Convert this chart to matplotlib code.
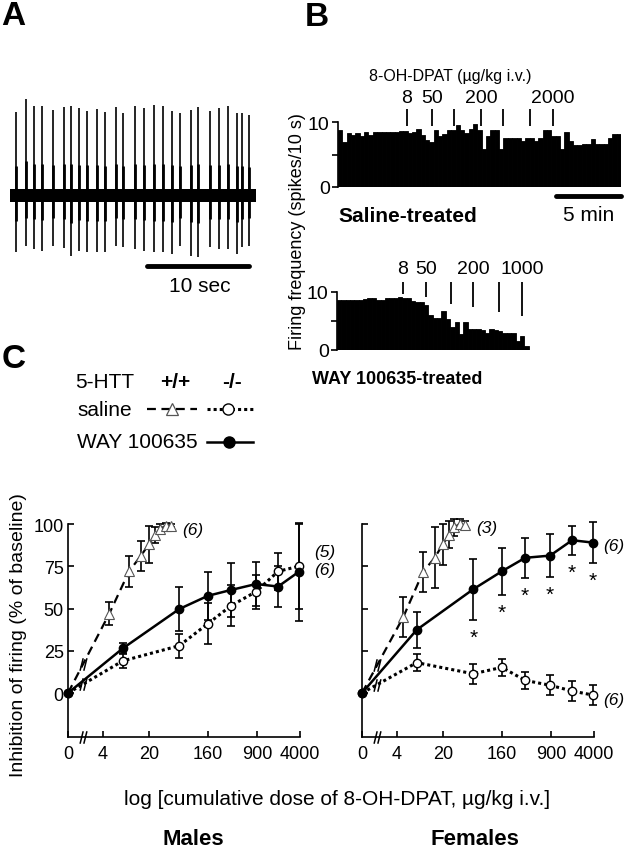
import numpy as np
import matplotlib
matplotlib.use("Agg")
import matplotlib.pyplot as plt
from matplotlib.path import Path

plt.rcParams['font.family'] = ['Liberation Sans', 'DejaVu Sans']
plt.rcParams['axes.linewidth'] = 1.2

# ---------------- Panel A: extracellular recording ----------------
trace_duration = 24.1  # s
spike_times = [0.59, 1.57, 2.38, 3.11, 4.19, 5.32, 5.98, 6.76, 7.52, 8.50, 9.31,
               10.36, 11.05, 12.25, 13.14, 14.15, 15.03, 15.85, 16.67, 17.72,
               18.46, 19.61, 20.52, 21.40, 22.23, 22.72, 23.46]
spike_up = [82.7, 96.7, 88.7, 88.7, 85.0, 87.7, 88.7, 86.7, 84.3, 86.0, 82.7,
            87.7, 81.7, 89.3, 86.7, 90.0, 89.3, 84.3, 81.7, 85.0, 87.7, 84.3,
            86.7, 88.7, 82.0, 82.0, 80.0]
spike_down = [57.3, 50.7, 54.0, 55.7, 50.7, 53.3, 61.3, 55.7, 57.3, 57.3, 57.3,
              50.7, 52.3, 54.0, 55.7, 57.3, 57.3, 59.0, 50.7, 60.7, 62.3, 52.3,
              54.0, 54.0, 59.0, 52.3, 50.7]
noise_half_width = 6.5

# ---------------- Panel B: rate histograms (spikes / 10 s) ----------------
bin_min = 1.0 / 3.0
saline_rate = [8.8, 6.9, 8.3, 8.0, 8.3, 7.8, 8.4, 8.0, 8.4, 8.5, 8.4, 8.5, 8.4,
               8.5, 8.6, 8.6, 8.3, 8.5, 9.0, 8.0, 7.3, 6.9, 8.8, 7.8, 8.2, 8.7,
               8.7, 9.6, 8.8, 8.3, 9.0, 9.7, 8.7, 5.8, 7.9, 8.7, 8.7, 5.8, 7.5,
               7.5, 7.6, 7.6, 7.1, 7.6, 7.6, 7.1, 7.5, 8.7, 8.7, 7.9, 7.9, 5.8,
               8.4, 7.1, 6.4, 6.4, 6.6, 6.6, 7.4, 6.6, 6.6, 6.6, 7.6, 8.1, 8.1]
way_rate = [8.7, 8.7, 8.6, 8.7, 8.6, 8.7, 8.8, 9.0, 8.9, 8.6, 8.7, 9.0, 9.0,
            9.0, 9.1, 9.0, 8.9, 8.5, 8.3, 8.2, 7.8, 6.0, 5.6, 5.6, 6.8, 5.4,
            3.9, 4.8, 2.8, 4.8, 3.6, 3.6, 3.6, 3.4, 3.0, 3.6, 3.5, 3.3, 3.0,
            3.0, 2.9, 1.6, 2.5, 0.7]
saline_dose_times = [5.28, 7.20, 8.88, 10.95, 12.63, 14.70, 16.46]
saline_dose_labels = ["8", "50", "", "200", "", "", "2000"]
way_dose_times = [5.05, 6.81, 8.73, 10.41, 12.40, 14.17]
way_dose_labels = ["8", "50", "", "200", "", "1000"]
way_dose_tick_low = [9.7, 9.1, 7.9, 7.4, 6.6, 5.9]

# ---------------- Panel C: dose-response ----------------
way_doses = [0, 8, 58, 158, 358, 858, 1858, 3858]
wt_doses = [0, 5, 10, 15, 20, 25, 30, 36, 44]

male_wt_mean = [0, 47, 72, 81, 88, 93.5, 97, 99, 99]
male_wt_sem = [0, 7, 9, 9, 11, 5, 3, 1.5, 1]
male_ko_sal_mean = [0, 19, 28, 41, 51.7, 60, 72, 75]
male_ko_sal_sem = [0, 4, 7, 12, 12, 10, 11, 25]
male_ko_way_mean = [0, 26.4, 49.7, 57.5, 61, 64.5, 63, 71.8]
male_ko_way_sem = [0, 3, 13, 14, 16, 13, 12, 29]

female_wt_mean = [0, 45, 71.7, 80, 88, 93.6, 98, 100, 99.6]
female_wt_sem = [0, 12, 12, 18, 12, 8, 5, 3, 2]
female_ko_sal_mean = [0, 18, 11.4, 15.2, 7.5, 4.6, 1.2, -1.2]
female_ko_sal_sem = [0, 5, 6, 5, 5, 6, 6, 6]
female_ko_way_mean = [0, 37.4, 61.4, 72, 80, 81.3, 90.4, 89]
female_ko_way_sem = [0, 10.5, 18, 14, 12, 12.5, 8.5, 12]
female_way_sig = [False, False, True, True, True, True, True, True]

x_tick_doses = [0, 4, 20, 160, 900, 4000]
x_tick_labels = ["0", "4", "20", "160", "900", "4000"]
y_ticks = [0, 25, 50, 75, 100]

# ---------------- layout ----------------
W, H = 626, 853
fig = plt.figure(figsize=(W / 100, H / 100), dpi=100)


def ax_px(left, top, right, bottom):
    return fig.add_axes([left / W, 1 - bottom / H, (right - left) / W, (bottom - top) / H])


# ---- Panel A ----
axA = ax_px(10, 100, 256, 300)
axA.set_xlim(0, trace_duration)
axA.set_ylim(-104, 96)
axA.axis('off')
axA.fill_between([0, trace_duration], -noise_half_width, noise_half_width, color='k', lw=0)
axA.vlines(spike_times, -np.asarray(spike_down), spike_up, color='k', lw=1.2)
axA.vlines(spike_times, -np.asarray(spike_down) * 0.45, np.asarray(spike_up) * 0.35,
           color='k', lw=2.0)
axA.plot([13.4, 23.4], [-71, -71], color='k', lw=3.5, solid_capstyle='round')
axA.text(18.6, -91, "10 sec", fontsize=15, ha='center', va='center')

# ---- Panel B ----
def draw_hist(ax, rates, dose_t, dose_lab, tick_low, tick_high, lab_y):
    n = len(rates)
    ax.bar(np.arange(n) * bin_min, rates, width=bin_min, align='edge',
           color='k', lw=0.6, edgecolor='k')
    ax.set_xlim(0, 65 * bin_min)
    ax.set_ylim(0, 10)
    for s in ['top', 'right', 'bottom']:
        ax.spines[s].set_visible(False)
    ax.spines['left'].set_bounds(0, 10)
    ax.set_xticks([])
    ax.set_yticks([0, 5, 10])
    ax.set_yticklabels(['0', '', '10'])
    ax.tick_params(axis='y', direction='out', length=4, width=1.2, labelsize=14, pad=2)
    ax.vlines(dose_t, tick_low, tick_high, color='k', lw=1.3, clip_on=False)
    for t, l in zip(dose_t, dose_lab):
        if l:
            ax.text(t, lab_y, l, fontsize=14, ha='center', va='center')
    ax.patch.set_alpha(0)


axB1 = ax_px(338, 123, 621, 188)
draw_hist(axB1, saline_rate, saline_dose_times, saline_dose_labels, 9.4, 12.0, 13.8)
axB1.text(8.6, 17.2, "8-OH-DPAT (µg/kg i.v.)", fontsize=11.5, ha='center', va='center')
axB1.plot([16.67, 21.67], [-1.4, -1.4], color='k', lw=3.5, solid_capstyle='round', clip_on=False)
axB1.text(19.2, -4.3, "5 min", fontsize=15, ha='center', va='center')
axB1.text(0, -4.4, "Saline-treated", fontsize=15, fontweight='bold', ha='left', va='center')

axB2 = ax_px(337, 293, 620, 351)
draw_hist(axB2, way_rate, way_dose_times, way_dose_labels, way_dose_tick_low, 11.7, 14.0)
axB2.text(-1.9, -5.0, "WAY 100635-treated", fontsize=13, fontweight='bold', ha='left', va='center')

# ---- Panel C plots ----
ZERO_POS = 0.07
BREAK_POS = 0.30
Y_MIN = -26


def dose_pos(doses):
    d = np.asarray(doses, float)
    out = np.full(d.shape, ZERO_POS)
    m = d > 0
    out[m] = np.log10(d[m])
    return out


brk = Path([(-0.55, -1), (-0.05, 1), (0.05, -1), (0.55, 1)],
           [Path.MOVETO, Path.LINETO, Path.MOVETO, Path.LINETO])


def draw_c(ax, wt_m, wt_s, sal_m, sal_s, way_m, way_s, ylabels, sig=None):
    xw = dose_pos(wt_doses)
    xk = dose_pos(way_doses)
    ebk = dict(fmt='none', ecolor='k', elinewidth=1.2, capsize=3.2, capthick=1.2)
    # +/+ saline
    e = ax.errorbar(xw[1:], wt_m[1:], yerr=wt_s[1:], **ebk)
    for a in e.get_children():
        a.set_clip_on(False)
    ax.plot(xw, wt_m, ls=(0, (4, 2.5)), lw=1.6, color='k', zorder=3, clip_on=False)
    ax.plot(xw[1:], wt_m[1:], ls='none', marker='^', ms=6.5, mfc='white', mec='#555555',
            mew=0.8, zorder=4, clip_on=False)
    # -/- saline
    e = ax.errorbar(xk[1:], sal_m[1:], yerr=sal_s[1:], **ebk)
    for a in e.get_children():
        a.set_clip_on(False)
    ax.plot(xk, sal_m, ls=(0, (1, 1)), lw=2.2, color='k', zorder=3, marker='o', ms=6,
            mfc='white', mec='k', mew=1.0, clip_on=False)
    # -/- WAY
    e = ax.errorbar(xk[1:], way_m[1:], yerr=way_s[1:], **ebk)
    for a in e.get_children():
        a.set_clip_on(False)
    ax.plot(xk, way_m, ls='-', lw=1.8, color='k', zorder=5, marker='o', ms=6,
            mfc='k', mec='k', clip_on=False)
    # break marks on lines
    for xs, ys in [(xw, wt_m), (xk, sal_m)]:
        yb = np.interp(BREAK_POS, xs[:2], ys[:2])
        ax.plot([BREAK_POS], [yb], marker=brk, ms=9, mfc='none', mec='k', mew=1.1,
                zorder=6, clip_on=False)
    ax.plot([BREAK_POS], [Y_MIN], marker=brk, ms=9, mfc='none', mec='k', mew=1.1,
            zorder=6, clip_on=False)
    if sig is not None:
        for xx, m, s, g in zip(xk, way_m, way_s, sig):
            if g:
                ax.text(xx, m - s - 13.5, "*", fontsize=15, ha='center', va='baseline')
    ax.set_xlim(ZERO_POS, np.log10(4000))
    ax.set_ylim(Y_MIN, 100)
    for s in ['top', 'right']:
        ax.spines[s].set_visible(False)
    ax.spines['left'].set_bounds(Y_MIN, 100)
    ax.set_xticks(dose_pos(x_tick_doses))
    ax.set_xticklabels(x_tick_labels)
    ax.set_yticks(y_ticks)
    if ylabels:
        ax.set_yticklabels([str(v) for v in y_ticks])
    else:
        ax.set_yticklabels([])
    ax.tick_params(axis='both', direction='in', length=4, width=1.2, labelsize=13)
    ax.tick_params(axis='x', pad=6)
    ax.tick_params(axis='y', pad=3)
    ax.patch.set_alpha(0)


axM = ax_px(68, 525, 300, 738)
draw_c(axM, male_wt_mean, male_wt_sem, male_ko_sal_mean, male_ko_sal_sem,
       male_ko_way_mean, male_ko_way_sem, True)
axF = ax_px(362, 525, 594, 738)
draw_c(axF, female_wt_mean, female_wt_sem, female_ko_sal_mean, female_ko_sal_sem,
       female_ko_way_mean, female_ko_way_sem, False, sig=female_way_sig)

# ---- overlay (pixel coordinates) for labels & legend ----
ov = ax_px(0, 0, W, H)
ov.set_xlim(0, W)
ov.set_ylim(H, 0)
ov.axis('off')
ov.patch.set_alpha(0)
ov.set_zorder(10)

for lab, x, y in [("A", 1, 16), ("B", 305, 17), ("C", 2, 359)]:
    ov.text(x, y, lab, fontsize=24, fontweight='bold', ha='left', va='center')

ov.text(298, 232, "Firing frequency (spikes/10 s)", fontsize=13, rotation=90,
        ha='center', va='center')

ov.text(75, 382, "5-HTT", fontsize=15, ha='left', va='center')
ov.text(175, 382, "+/+", fontsize=15, fontweight='bold', ha='center', va='center')
ov.text(232, 382, "-/-", fontsize=15, fontweight='bold', ha='center', va='center')
ov.text(77, 410, "saline", fontsize=15, ha='left', va='center')
ov.text(77, 443, "WAY 100635", fontsize=15, ha='left', va='center')
ov.plot([147, 197], [410, 410], color='k', lw=1.6, ls=(0, (4, 2.5)))
ov.plot([172], [410], marker='^', ms=9, mfc='white', mec='#555555', mew=0.9)
ov.plot([207, 253], [410, 410], color='k', lw=2.2, ls=(0, (1, 1)))
ov.plot([228], [410], marker='o', ms=8, mfc='white', mec='k', mew=1.0)
ov.plot([207, 253], [443, 443], color='k', lw=1.8)
ov.plot([229], [443], marker='o', ms=8, mfc='k', mec='k')

for x, y, t in [(182, 531, "(6)"), (314, 552, "(5)"), (314, 571, "(6)"),
                (476, 529, "(3)"), (603, 547, "(6)"), (603, 700, "(6)")]:
    ov.text(x, y, t, fontsize=12.5, style='italic', ha='left', va='center')

ov.text(19, 635, "Inhibition of firing (% of baseline)", fontsize=14, rotation=90,
        ha='center', va='center')
ov.text(337, 800, "log [cumulative dose of 8-OH-DPAT, µg/kg i.v.]", fontsize=15,
        ha='center', va='center')
ov.text(193, 840, "Males", fontsize=16, fontweight='bold', ha='center', va='center')
ov.text(475, 840, "Females", fontsize=16, fontweight='bold', ha='center', va='center')

fig.savefig("out.png", dpi=100)
